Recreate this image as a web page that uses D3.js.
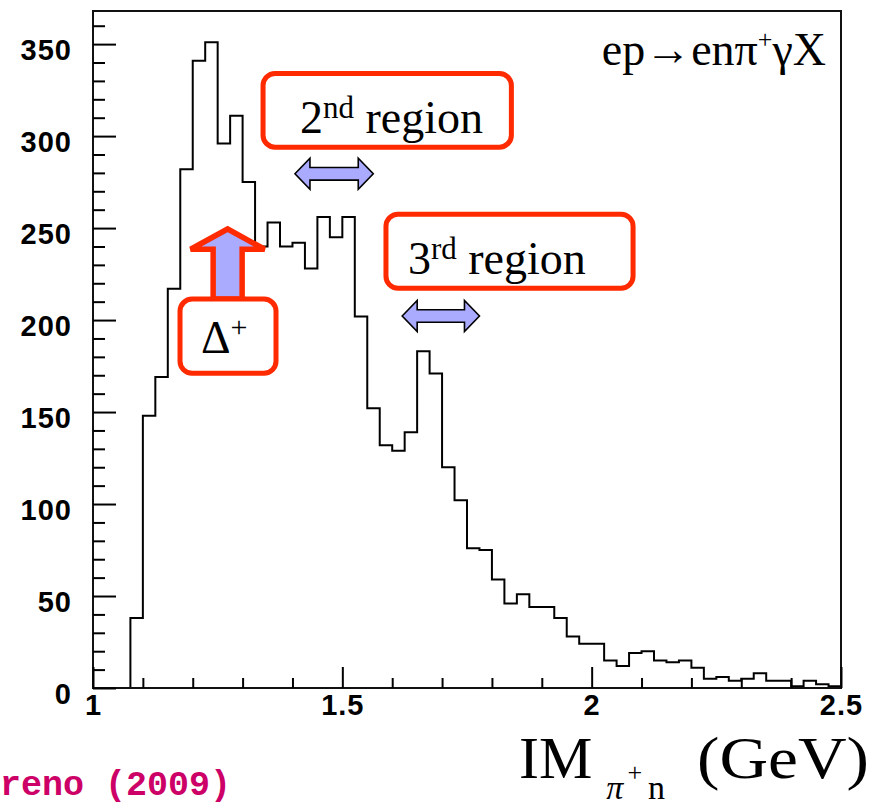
<!DOCTYPE html>
<html>
<head>
<meta charset="utf-8">
<script src="https://cdn.jsdelivr.net/npm/d3@7"></script>
<style>
  html, body { margin: 0; padding: 0; background: #fff; }
  svg { display: block; }
</style>
</head>
<body>
<svg id="chart" width="873" height="805"></svg>
<script>
// Invariant mass of the pi+ n system, 60 bins of 25 MeV from 1.0 to 2.5 GeV
const binLow = 1.0;
const binWidth = 0.025;
const counts = [
  0, 0, 0, 38, 148, 169, 217, 282, 341, 351,
  296, 311, 275, 240, 253, 240, 242, 228, 256, 245,
  256, 202, 152, 132, 129, 139, 183, 171, 120, 102,
  76, 75, 59, 46, 51, 44, 44, 38, 28, 24,
  24, 15, 12, 19, 20, 15, 14, 15, 11, 5,
  6, 4, 5, 8, 4, 4, 1, 4, 2, 1
];
const xDomain = [1.0, 2.5];
const yDomain = [0, 368];
const xMajorTicks = [1, 1.5, 2, 2.5];
const xMinorTicks = [1.1, 1.2, 1.3, 1.4, 1.6, 1.7, 1.8, 1.9, 2.1, 2.2, 2.3, 2.4];
const yMajorTicks = [0, 50, 100, 150, 200, 250, 300, 350];
const yMinorTicks = [10, 20, 30, 40, 60, 70, 80, 90, 110, 120, 130, 140, 160, 170, 180, 190,
  210, 220, 230, 240, 260, 270, 280, 290, 310, 320, 330, 340, 360];

// Annotated regions (GeV, counts)
const regionBoxes = [
  { x0: 1.341, x1: 1.839, yTop: 334, yBot: 294, pad: 37, main: "2", sup: "nd", rest: " region" },
  { x0: 1.5875, x1: 2.083, yTop: 257.5, yBot: 217.3, pad: 22, main: "3", sup: "rd", rest: " region" }
];
const regionArrows = [
  { x0: 1.405, x1: 1.562, y: 279.5 },
  { x0: 1.620, x1: 1.775, y: 202.2 }
];
const deltaBox = { x0: 1.1745, x1: 1.367, yTop: 211.4, yBot: 171.1 };
const deltaArrow = { x: 1.270, tip: 249.5, headBase: 238.5 };

const svg = d3.select("#chart");
const margin = { left: 93, right: 841, top: 11, bottom: 688 };

const x = d3.scaleLinear().domain(xDomain).range([margin.left, margin.right]);
const y = d3.scaleLinear().domain(yDomain).range([margin.bottom, margin.top]);

const red = "#ff2a00";
const lav = "#aaaaff";

// Step histogram
const pts = counts.map((c, i) => [binLow + i * binWidth, c]);
pts.push([binLow + counts.length * binWidth, counts[counts.length - 1]]);
const line = d3.line()
  .x(d => x(d[0]))
  .y(d => y(d[1]))
  .curve(d3.curveStepAfter);

svg.append("path")
  .attr("d", line(pts))
  .attr("fill", "none")
  .attr("stroke", "#000")
  .attr("stroke-width", 2)
  .attr("stroke-linejoin", "miter");

// Frame
svg.append("rect")
  .attr("x", margin.left).attr("y", margin.top)
  .attr("width", margin.right - margin.left)
  .attr("height", margin.bottom - margin.top)
  .attr("fill", "none")
  .attr("stroke", "#111")
  .attr("stroke-width", 2);

// Axes: ticks pointing into the frame
function styleAxis(g) {
  g.select(".domain").remove();
  g.selectAll(".tick line").attr("stroke", "#000").attr("stroke-width", 2);
  g.selectAll(".tick text")
    .attr("fill", "#000")
    .style("font-family", "'Liberation Sans', Arial, sans-serif")
    .style("font-weight", "bold")
    .style("font-size", "29px")
    .style("letter-spacing", "1px");
}

svg.append("g")
  .attr("transform", `translate(${margin.left},0)`)
  .call(d3.axisLeft(y).tickValues(yMinorTicks).tickSize(-12).tickFormat(""))
  .call(styleAxis);

const yAx = svg.append("g")
  .attr("transform", `translate(${margin.left},0)`)
  .call(d3.axisLeft(y).tickValues(yMajorTicks).tickSize(-23).tickPadding(21).tickFormat(d3.format("d")))
  .call(styleAxis);
yAx.selectAll(".tick text").attr("dy", "0.54em");

svg.append("g")
  .attr("transform", `translate(0,${margin.bottom})`)
  .call(d3.axisBottom(x).tickValues(xMinorTicks).tickSize(-10).tickFormat(""))
  .call(styleAxis);

svg.append("g")
  .attr("transform", `translate(0,${margin.bottom})`)
  .call(d3.axisBottom(x).tickValues(xMajorTicks).tickSize(-21).tickPadding(6).tickFormat(d3.format("")))
  .call(styleAxis);

// Reaction label
const serif = "'Liberation Serif', 'Times New Roman', serif";
const title = svg.append("text")
  .attr("x", 826).attr("y", 65)
  .attr("text-anchor", "end")
  .style("font-family", serif)
  .style("font-size", "46px")
  .attr("fill", "#000");
title.append("tspan").text("ep\u2192en\u03c0");
title.append("tspan").attr("dy", -17).style("font-size", "26px").text("+");
title.append("tspan").attr("dy", 17).text("\u03b3X");

// Axis title
const xt = svg.append("text")
  .attr("x", 519).attr("y", 778)
  .style("font-family", serif)
  .style("font-size", "60px")
  .attr("fill", "#000");
xt.append("tspan").text("IM");
xt.append("tspan").attr("dx", 14).attr("dy", 21).style("font-size", "34px").style("font-style", "italic").text("\u03c0");
xt.append("tspan").attr("dx", 4).attr("dy", -18).style("font-size", "26px").text("+");
xt.append("tspan").attr("dx", 6).attr("dy", 18).style("font-size", "34px").text("n");

svg.append("text")
  .attr("x", 697).attr("y", 778)
  .attr("textLength", 172)
  .attr("lengthAdjust", "spacingAndGlyphs")
  .style("font-family", serif)
  .style("font-size", "60px")
  .attr("fill", "#000")
  .text("(GeV)");

// Author credit along the lower-left edge
svg.append("text")
  .attr("x", 0).attr("y", 795)
  .style("font-family", "'Liberation Mono', 'Courier New', monospace")
  .style("font-weight", "bold")
  .style("font-size", "35px")
  .attr("fill", "#cc0066")
  .text("reno (2009)");

// Double-headed region arrows
function doubleArrow(x1, x2, cy) {
  const hl = 15, hh = 15.5, sh = 6.3;
  return `M${x1},${cy} L${x1 + hl},${cy - hh} L${x1 + hl},${cy - sh} L${x2 - hl},${cy - sh} ` +
    `L${x2 - hl},${cy - hh} L${x2},${cy} L${x2 - hl},${cy + hh} L${x2 - hl},${cy + sh} ` +
    `L${x1 + hl},${cy + sh} L${x1 + hl},${cy + hh} Z`;
}
svg.selectAll("path.region-arrow")
  .data(regionArrows)
  .join("path")
  .attr("class", "region-arrow")
  .attr("d", d => doubleArrow(x(d.x0), x(d.x1), y(d.y)))
  .attr("fill", lav)
  .attr("stroke", "#000")
  .attr("stroke-width", 1.6)
  .attr("stroke-linejoin", "miter");

// Region label boxes
const boxes = svg.selectAll("g.region-box")
  .data(regionBoxes)
  .join("g")
  .attr("class", "region-box");
boxes.append("rect")
  .attr("x", d => x(d.x0)).attr("y", d => y(d.yTop))
  .attr("width", d => x(d.x1) - x(d.x0))
  .attr("height", d => y(d.yBot) - y(d.yTop))
  .attr("rx", 12).attr("ry", 12)
  .attr("fill", "#fff")
  .attr("stroke", red)
  .attr("stroke-width", 5);
const bt = boxes.append("text")
  .attr("x", d => x(d.x0) + d.pad)
  .attr("y", d => y(d.yBot) - 14)
  .style("font-family", serif)
  .style("font-size", "46px")
  .attr("fill", "#000");
bt.append("tspan").text(d => d.main);
bt.append("tspan").attr("dy", -15).style("font-size", "31px").text(d => d.sup);
bt.append("tspan").attr("dy", 15).text(d => d.rest);

// Delta(1232) marker: upward arrow resting on its label box
const ax = x(deltaArrow.x);
const tipY = y(deltaArrow.tip);
const baseY = y(deltaArrow.headBase);
const boxTop = y(deltaBox.yTop);
const headHalf = 37, shaftHalf = 14.5;
svg.append("path")
  .attr("d", `M${ax},${tipY} L${ax + headHalf},${baseY} L${ax + shaftHalf},${baseY} L${ax + shaftHalf},${boxTop} ` +
    `L${ax - shaftHalf},${boxTop} L${ax - shaftHalf},${baseY} L${ax - headHalf},${baseY} Z`)
  .attr("fill", lav)
  .attr("stroke", red)
  .attr("stroke-width", 5.5)
  .attr("stroke-linejoin", "miter");

svg.append("rect")
  .attr("x", x(deltaBox.x0)).attr("y", y(deltaBox.yTop))
  .attr("width", x(deltaBox.x1) - x(deltaBox.x0))
  .attr("height", y(deltaBox.yBot) - y(deltaBox.yTop))
  .attr("rx", 12).attr("ry", 12)
  .attr("fill", "#fff")
  .attr("stroke", red)
  .attr("stroke-width", 5);
const dt = svg.append("text")
  .attr("x", x(deltaBox.x0) + 21)
  .attr("y", y(deltaBox.yBot) - 20)
  .style("font-family", serif)
  .style("font-size", "46px")
  .attr("fill", "#000");
dt.append("tspan").text("\u0394");
dt.append("tspan").attr("dy", -16).style("font-size", "30px").text("+");
</script>
</body>
</html>
